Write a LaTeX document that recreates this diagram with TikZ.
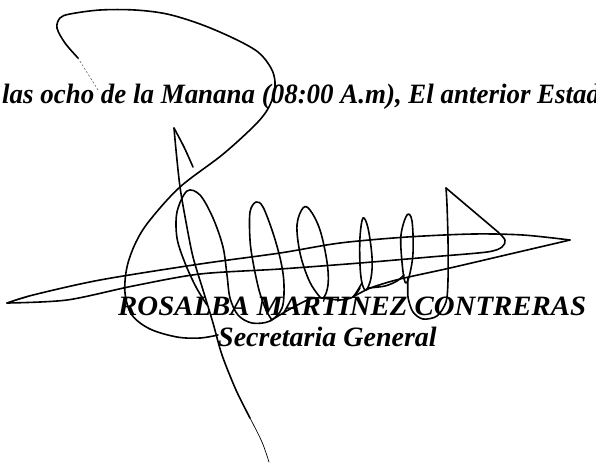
\documentclass[tikz,border=0pt]{standalone}
\usepackage{fontspec}
\setmainfont{Liberation Serif}
\begin{document}
\begin{tikzpicture}[x=1pt,y=-1pt,
  sig/.style={line width=1.6pt, line cap=round, line join=round},
  thin/.style={line width=0.7pt, line cap=round},
  faint/.style={line width=0.6pt, dash pattern=on 2pt off 2pt, black!60},
  txt/.style={font=\fontsize{28}{30}\selectfont\bfseries\itshape, inner sep=0pt, anchor=base west}]
\useasboundingbox (0,0) rectangle (596,467);
\clip (0,0) rectangle (596,467);
\fill[white] (0,0) rectangle (596,467);
% texts
\node[txt, xscale=0.962] (l1) at (2,103) {las ocho de la Manana (08:00 A.m), El anterior Estad};
\node[txt, xscale=1.03] (l2) at (118,315) {ROSALBA MARTINEZ CONTRERAS};
\node[txt] (l3) at (218,346) {Secretaria General};
% top loop and big left arc
\draw[faint] plot[smooth] coordinates {(98,90) (88,74) (78,58)};
\draw[sig] plot[smooth,tension=0.55] coordinates {(78,58) (65,43) (57,28) (60,18) (70,14) (100,10) (135,10) (167,14) (200,24) (233,38) (258,52) (271,68) (275,82) (273,97) (266,112) (252,128) (222,155) (180,187) (150,220) (136,242) (127,267) (125,293) (132,315) (150,329) (177,337) (200,338) (218,335)};
% spike and long descending stroke
\draw[sig] plot[smooth] coordinates {(193,167) (184,147) (174,128)};
\draw[sig] plot[smooth,tension=0.5] coordinates {(174,128) (176,150) (180,187) (186,222) (193,257) (203,290) (213,323) (222,355) (236,390) (250,418)};
\draw[thin] plot[smooth] coordinates {(250,418) (262,442) (269,462)};
% loops 1 and 2
\draw[sig] plot[smooth,tension=0.55] coordinates {(207,305) (196,287) (185,263) (177,238) (177,212) (187,191) (200,195) (213,218) (223,247) (227,275) (230,298) (238,315) (252,323) (270,321) (282,308) (284,285) (281,262) (273,233) (263,207) (256,202) (250,212) (250,240) (253,262) (259,290) (266,310) (272,320)};
\draw[sig] plot[smooth] coordinates {(270,321) (290,309) (310,299) (323,298)};
% loop 3
\draw[sig] plot[smooth cycle,tension=0.6] coordinates {(303,208) (310,210) (320,230) (327,262) (328,285) (323,298) (316,292) (308,278) (300,253) (297,225)};
\draw[sig] plot[smooth] coordinates {(323,298) (340,300) (353,297) (360,288)};
% loop 4
\draw[sig] plot[smooth cycle,tension=0.6] coordinates {(363,218) (368,228) (372,257) (371,278) (366,290) (362,283) (360,265) (360,237)};
\draw[sig] plot[smooth] coordinates {(362,283) (356,293) (353,297)};
\draw[sig] plot[smooth,tension=0.5] coordinates {(353,297) (360,293) (373,287) (400,279) (450,268) (510,254) (570,240)};
\draw[sig] plot[smooth] coordinates {(368,288) (385,286) (397,281) (404,275)};
% loop 5 and flag
\draw[sig] plot[smooth cycle,tension=0.6] coordinates {(407,215) (412,221) (413,253) (409,277) (405,282) (402,262) (401,235)};
\draw[sig] plot[smooth,tension=0.5] coordinates {(408,278) (408,297) (413,312) (423,319) (437,316) (446,302) (448,280) (448,240) (447,205) (446,188)};
\draw[sig] (446,188) -- (498,232);
\draw[sig] plot[smooth,tension=0.5] coordinates {(498,232) (505,240) (502,247) (487,252) (430,257) (360,263) (280,269) (200,274) (133,286) (67,300) (7,303)};
% upper long line
\draw[sig] plot[smooth,tension=0.5] coordinates {(7,303) (33,295) (100,280) (200,264) (280,253) (340,243) (407,237) (473,234) (523,235) (570,240)};
\draw[thin] (10,302) -- (27,297);
\end{tikzpicture}
\end{document}
